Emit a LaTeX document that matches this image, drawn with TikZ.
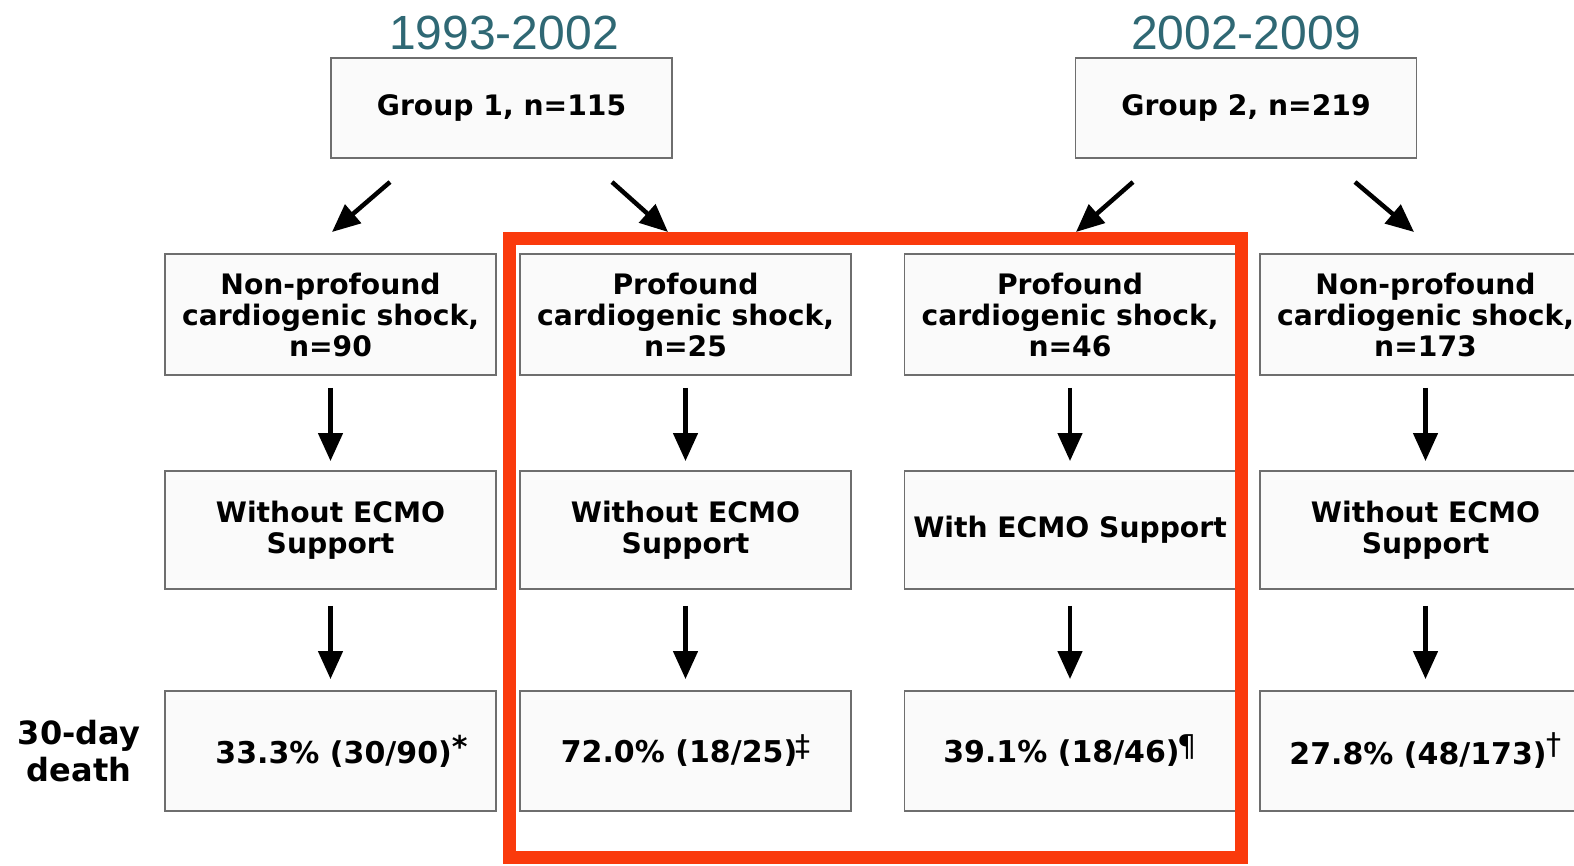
\documentclass[tikz,border=0pt]{standalone}
\usepackage{fontspec}
\setmainfont{DejaVu Sans}
\newfontfamily\titlefont{Liberation Sans}
\usetikzlibrary{arrows.meta}
\definecolor{tealtitle}{RGB}{47,104,116}
\definecolor{hired}{RGB}{250,58,12}
\definecolor{boxgray}{RGB}{110,110,110}
\begin{document}
\begin{tikzpicture}[x=1pt,y=-1pt,
  box/.style={draw=boxgray, line width=1.8pt, fill=gray!4, minimum width=331pt,
    minimum height=120pt, align=center, inner sep=0pt,
    font=\fontsize{28.2}{31}\selectfont\bfseries},
  gbox/.style={box, minimum width=341pt, minimum height=100pt},
  resbox/.style={box, font=\fontsize{30}{31}\selectfont\bfseries},
  yeartitle/.style={text=tealtitle, font=\titlefont\fontsize{48}{48}\selectfont, inner sep=0pt},
  arr/.style={line width=4.5pt, -{Triangle[length=28pt,width=24pt]}},
  varr/.style={arr, shorten <=12pt, shorten >=9pt}]
\useasboundingbox (0,0) rectangle (1574,866);

% titles
\node[yeartitle] (t1) at (504,33) {1993-2002};
\node[yeartitle] (t2) at (1246,33) {2002-2009};

% group boxes
\node[gbox] (g1) at (501.5,108) {Group 1, n=115};
\node[gbox] (g2) at (1246,108) {Group 2, n=219};

% row 1
\node[box, minimum height=121pt] (a1) at (330.5,314.5) {Non-profound\\cardiogenic shock,\\n=90};
\node[box, minimum height=121pt] (a2) at (685.5,314.5) {Profound\\cardiogenic shock,\\n=25};
\node[box, minimum height=121pt] (a3) at (1070,314.5) {Profound\\cardiogenic shock,\\n=46};
\node[box, minimum height=121pt] (a4) at (1425.5,314.5) {Non-profound\\cardiogenic shock,\\n=173};

% row 2
\node[box, minimum height=118pt] (b1) at (330.5,530) {Without ECMO\\Support};
\node[box, minimum height=118pt] (b2) at (685.5,530) {Without ECMO\\Support};
\node[box, minimum height=118pt] (b3) at (1070,530) {With ECMO Support};
\node[box, minimum height=118pt] (b4) at (1425.5,530) {Without ECMO\\Support};

% row 3
\node[resbox] (c1) at (330.5,751) {\hspace*{22pt}33.3\% (30/90)\raisebox{6pt}{*}};
\node[resbox] (c2) at (685.5,751) {72.0\% (18/25)\kern-2pt\raisebox{6pt}{\mdseries ‡}};
\node[resbox] (c3) at (1070,751) {39.1\% (18/46)\kern-2pt\raisebox{6pt}{\mdseries ¶}};
\node[resbox] (c4) at (1425.5,751) {27.8\% (48/173)\raisebox{10pt}{\mdseries †}};

% side label
\node[align=center, inner sep=0pt, font=\fontsize{32}{37}\selectfont\bfseries] (lab) at (79,751) {30-day\\death};

% diagonal arrows
\coordinate (d1s) at (390,182); \coordinate (d1e) at (332,232);
\coordinate (d2s) at (612,182); \coordinate (d2e) at (668,232);
\coordinate (d3s) at (1133,182); \coordinate (d3e) at (1076,232);
\coordinate (d4s) at (1355,182); \coordinate (d4e) at (1414,232);
\draw[arr] (d1s) -- (d1e);
\draw[arr] (d2s) -- (d2e);
\draw[arr] (d3s) -- (d3e);
\draw[arr] (d4s) -- (d4e);

% vertical arrows
\foreach \i in {1,2,3,4}{
  \draw[varr] (a\i) -- (b\i);
  \draw[varr, shorten <=16pt, shorten >=11pt] (b\i) -- (c\i);
}

% highlight frame
\draw[hired, line width=13pt] (509,239) rectangle (1241,857);
\end{tikzpicture}
\end{document}
